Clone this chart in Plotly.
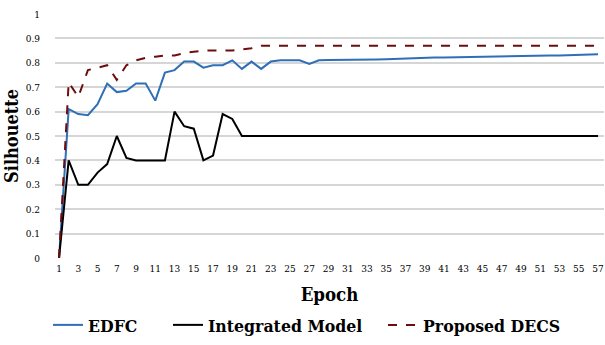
import plotly.graph_objects as go

# Silhouette score per training epoch (epochs 1..57)
epochs = list(range(1, 58))

edfc = [0.0, 0.61, 0.59, 0.585, 0.63, 0.715, 0.68, 0.685, 0.715, 0.715,
        0.645, 0.76, 0.77, 0.805, 0.805, 0.78, 0.79, 0.79, 0.81, 0.775,
        0.805, 0.775, 0.805, 0.81, 0.81, 0.81, 0.795, 0.81, 0.811, 0.811,
        0.811, 0.812, 0.813, 0.814, 0.815, 0.817, 0.819, 0.82, 0.821, 0.822,
        0.822, 0.823, 0.824, 0.825, 0.826, 0.826, 0.827, 0.827, 0.828, 0.829,
        0.829, 0.83, 0.83, 0.831, 0.832, 0.834, 0.835]

integrated = [0.0, 0.40, 0.30, 0.30, 0.35, 0.385, 0.50, 0.41, 0.40, 0.40,
              0.40, 0.40, 0.60, 0.54, 0.53, 0.40, 0.42, 0.59, 0.57, 0.50,
              0.50, 0.50, 0.50, 0.50, 0.50, 0.50, 0.50, 0.50, 0.50, 0.50,
              0.50, 0.50, 0.50, 0.50, 0.50, 0.50, 0.50, 0.50, 0.50, 0.50,
              0.50, 0.50, 0.50, 0.50, 0.50, 0.50, 0.50, 0.50, 0.50, 0.50,
              0.50, 0.50, 0.50, 0.50, 0.50, 0.50, 0.50]

decs = [0.0, 0.72, 0.66, 0.77, 0.78, 0.79, 0.73, 0.79, 0.81, 0.82,
        0.825, 0.83, 0.83, 0.84, 0.845, 0.85, 0.85, 0.85, 0.85, 0.855,
        0.86, 0.87, 0.87, 0.87, 0.87, 0.87, 0.87, 0.87, 0.87, 0.87,
        0.87, 0.87, 0.87, 0.87, 0.87, 0.87, 0.87, 0.87, 0.87, 0.87,
        0.87, 0.87, 0.87, 0.87, 0.87, 0.87, 0.87, 0.87, 0.87, 0.87,
        0.87, 0.87, 0.87, 0.87, 0.87, 0.87, 0.87]

x_ticks = list(range(1, 58, 2))
y_ticks = [0, 0.1, 0.2, 0.3, 0.4, 0.5, 0.6, 0.7, 0.8, 0.9, 1]
y_tick_text = ["0", "0.1", "0.2", "0.3", "0.4", "0.5", "0.6", "0.7", "0.8", "0.9", "1"]

serif = "DejaVu Serif Condensed, DejaVu Serif"
W, H = 605, 345

fig = go.Figure()
fig.add_trace(go.Scatter(x=epochs, y=edfc, mode="lines", name="<b>EDFC</b>",
                         line=dict(color="#2e6fb8", width=2), legend="legend"))
fig.add_trace(go.Scatter(x=epochs, y=integrated, mode="lines", name="<b>Integrated Model</b>",
                         line=dict(color="#000000", width=2), legend="legend2"))
fig.add_trace(go.Scatter(x=epochs, y=decs, mode="lines", name="<b>Proposed DECS</b>",
                         line=dict(color="#6e0d0d", width=2, dash="dash"), legend="legend3"))


def legend_box(left_px):
    # one single-entry legend, placed along the bottom row
    return dict(orientation="h", xref="container", yref="container",
                x=left_px / W, y=20 / H, xanchor="left", yanchor="middle",
                font=dict(family=serif, size=17.5, color="#000000"),
                itemwidth=30, bgcolor="rgba(0,0,0,0)", borderwidth=0)


fig.update_layout(
    width=W, height=H,
    margin=dict(l=55, r=1, t=14, b=87, autoexpand=False),
    paper_bgcolor="white", plot_bgcolor="white",
    font=dict(family=serif, color="#000000"),
    showlegend=True,
    legend=legend_box(48),
    legend2=legend_box(168),
    legend3=legend_box(383),
)
fig.update_xaxes(
    range=[0.58, 57.62], tickmode="array", tickvals=x_ticks,
    ticktext=[str(v) for v in x_ticks],
    tickfont=dict(family=serif, size=10, color="#000000"),
    ticklabelstandoff=3,
    showgrid=False, zeroline=False, showline=False, ticks="",
    title=dict(text="<b>Epoch</b>", font=dict(family=serif, size=18.5), standoff=15),
)
fig.update_yaxes(
    range=[0, 1], tickmode="array", tickvals=y_ticks, ticktext=y_tick_text,
    tickfont=dict(family=serif, size=10, color="#000000"),
    ticklabelstandoff=14,
    showgrid=True, gridcolor="#d6d6d6", gridwidth=1.5,
    zeroline=False, showline=False, ticks="", ticklen=0,
    title=dict(text="<b>Silhouette</b>", font=dict(family=serif, size=18), standoff=2),
)

fig.write_html("out.html")
